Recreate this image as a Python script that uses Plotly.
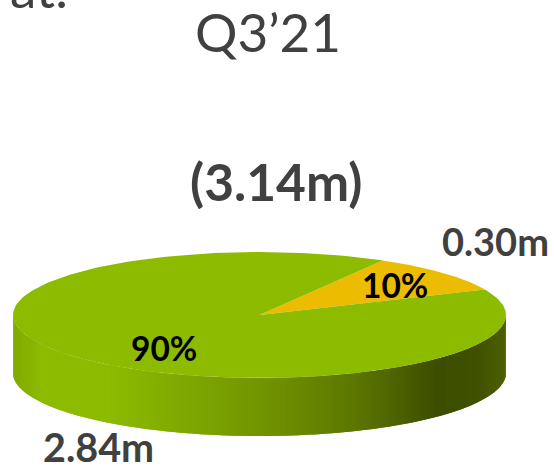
import numpy as np
import plotly.graph_objects as go

# Quarterly split shown as a tilted, extruded pie
period = "Q3\u201921"
total_label = "(3.14m)"
share_pct = [10, 90]
share_labels = ["10%", "90%"]
volume_labels = ["0.30m", "2.84m"]
slice_colors = ["#ECBC00", "#8DBB00"]

# Pie geometry in page pixels
CX, CY = 259.5, 315.0
RX, RY = 246.5, 63.0
DEPTH = 58.0
START_DEG = 24.0

# Left-to-right shading of the rim: (x fraction, rgb)
rim_stops = [
    (0.00, (128, 170, 0)),
    (0.06, (140, 187, 0)),
    (0.20, (140, 187, 0)),
    (0.50, (114, 150, 0)),
    (0.70, (92, 118, 0)),
    (0.86, (62, 78, 0)),
    (0.94, (64, 80, 0)),
    (1.00, (76, 96, 0)),
]


def ellipse_point(deg):
    rad = np.radians(deg)
    return CX + RX * np.cos(rad), CY - RY * np.sin(rad)


def wedge(start, sweep):
    angles = np.linspace(start, start + sweep, 240)
    xs, ys = ellipse_point(angles)
    return np.r_[CX, xs, CX], np.r_[CY, ys, CY]


def rim_color(frac):
    fracs = [s[0] for s in rim_stops]
    rgb = [np.interp(frac, fracs, [s[1][i] for s in rim_stops]) for i in range(3)]
    return "rgb({:.0f},{:.0f},{:.0f})".format(*rgb)


fig = go.Figure()

# Rim: thin vertical bands following the front half of the ellipse
band_edges = np.linspace(180, 360, 181)
for i in range(len(band_edges) - 1):
    # each band runs a little into the next so no seams show
    arc = np.linspace(band_edges[i], min(band_edges[i + 1] + 1.0, 360), 4)
    xs, ys = ellipse_point(arc)
    mid_x = xs.mean()
    fig.add_trace(go.Scatter(
        x=np.r_[xs, xs[::-1]],
        y=np.r_[ys, ys[::-1] + DEPTH],
        mode="lines", line=dict(width=0),
        fill="toself", fillcolor=rim_color((mid_x - (CX - RX)) / (2 * RX)),
        hoverinfo="skip", showlegend=False,
    ))

# Top face: each slice sweeps its percentage of the full turn
angle = START_DEG
for pct, label, color in zip(share_pct, volume_labels, slice_colors):
    sweep = pct / sum(share_pct) * 360
    xs, ys = wedge(angle, sweep)
    fig.add_trace(go.Scatter(
        x=xs, y=ys, mode="lines", line=dict(width=0),
        fill="toself", fillcolor=color, name=label,
        hoverinfo="name", showlegend=False,
    ))
    angle += sweep

GREY = "#404040"
FONT = "Lato"


def add_text(text, x, y, size, color=GREY, bold=False):
    fig.add_annotation(
        x=x, y=y, text=f"<b>{text}</b>" if bold else text,
        showarrow=False, xanchor="center", yanchor="middle",
        font=dict(family=FONT, size=size, color=color),
    )


add_text(period, 268, 31, 53)
add_text(total_label, 276, 181, 51.5, bold=True)
add_text(volume_labels[0], 495.5, 241, 38, bold=True)
add_text(volume_labels[1], 98.5, 446, 39.5, bold=True)
add_text(share_labels[0], 394.5, 285, 33.5, color="#000000", bold=True)
add_text(share_labels[1], 163.5, 348, 33.5, color="#000000", bold=True)

# Tail of a line of text running off the top edge
fig.add_annotation(
    xref="paper", yref="paper", x=8 / 554, y=1, yshift=-21,
    text="at:", showarrow=False, xanchor="left", yanchor="bottom",
    font=dict(family=FONT, size=53, color=GREY),
)

fig.update_layout(
    width=554, height=466,
    margin=dict(l=0, r=0, t=0, b=0),
    paper_bgcolor="white", plot_bgcolor="white",
    showlegend=False,
    xaxis=dict(range=[0, 554], visible=False, fixedrange=True),
    yaxis=dict(range=[466, 0], visible=False, fixedrange=True),
)

fig.write_html("out.html", config={"displayModeBar": False})
